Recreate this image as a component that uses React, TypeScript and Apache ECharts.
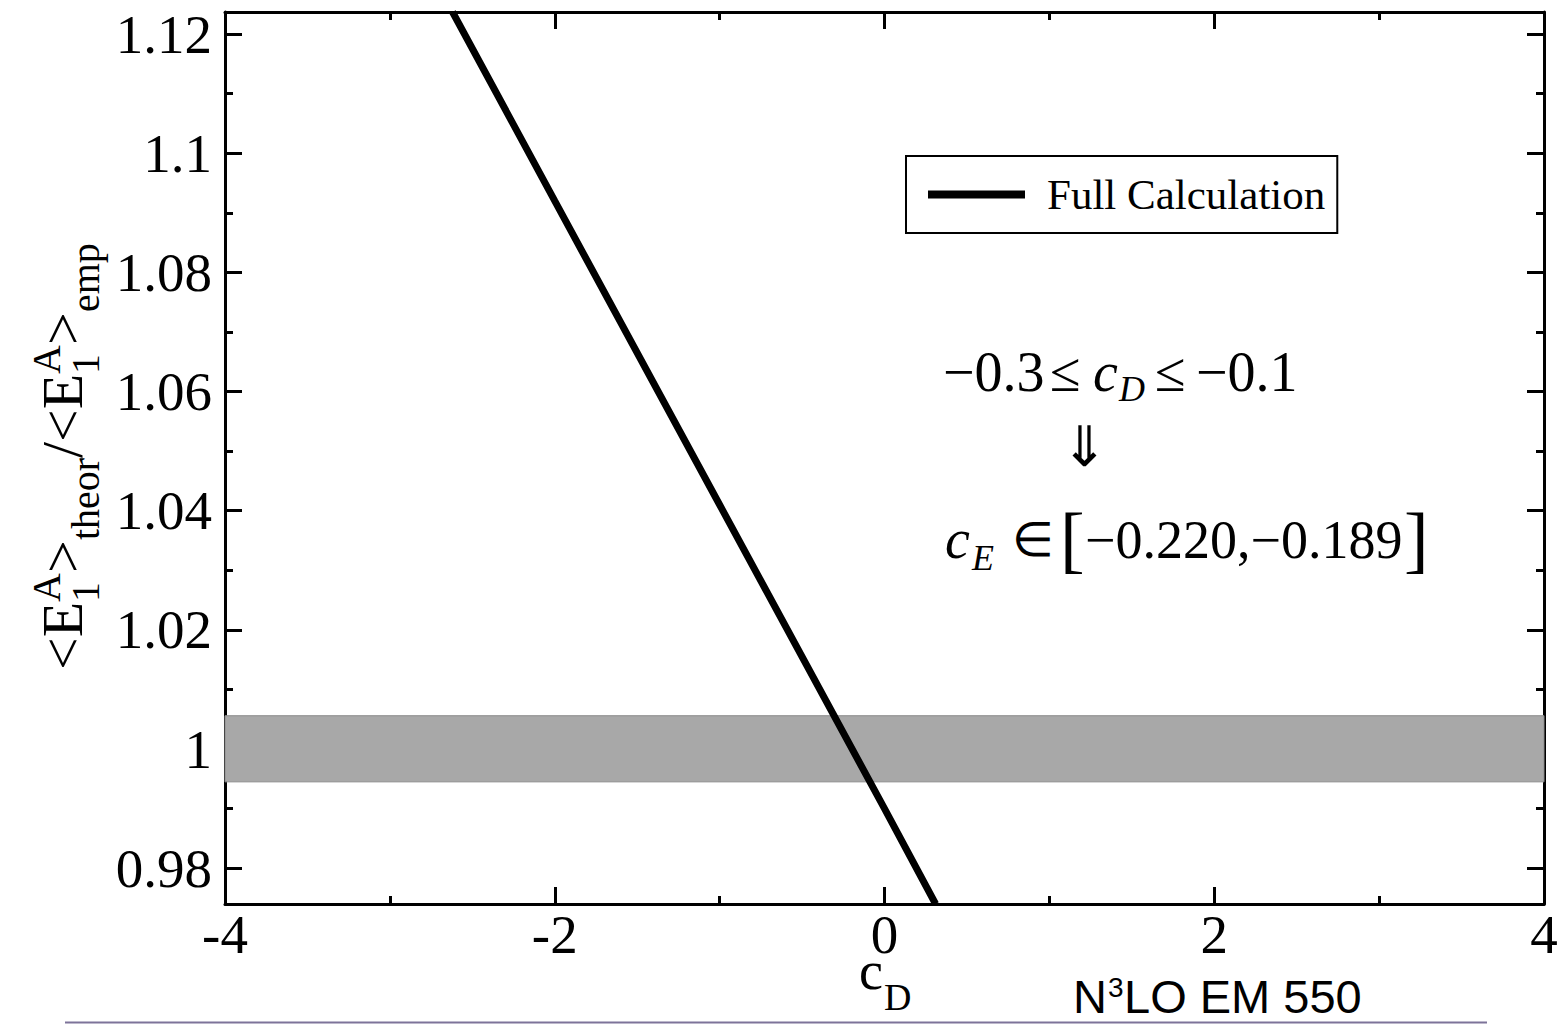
import React, { useEffect, useRef } from "react";
import * as echarts from "echarts";

// Data
const cD = [-2.62, -2, -1, 0, 0.31];
const ratio = [1.1237, 1.092, 1.041, 0.99, 0.974];
const bandLow = 0.9945;
const bandHigh = 1.0056;
const xMin = -4;
const xMax = 4;
const xStep = 2;
const yMin = 0.974;
const yMax = 1.1237;
const yStep = 0.02;
const seriesName = "Full Calculation";

const SERIF = '"Liberation Serif", "Times New Roman", Times, serif';
const SANS = '"Liberation Sans", Arial, Helvetica, sans-serif';

function txt(
  text: string,
  x: number,
  baseline: number,
  size: number,
  opts: { italic?: boolean; family?: string; align?: string } = {}
) {
  return {
    type: "text",
    x,
    y: baseline - 0.3375 * size,
    silent: true,
    style: {
      text,
      fill: "#000",
      fontSize: size,
      fontFamily: opts.family || SERIF,
      fontStyle: opts.italic ? "italic" : "normal",
      align: opts.align || "left",
      verticalAlign: "middle",
    },
  };
}

export default function App() {
  const ref = useRef<HTMLDivElement>(null);

  useEffect(() => {
    const chart = echarts.init(ref.current!, null, { renderer: "svg" });

    const F = 58;
    const s = 40;
    const supOff = -22;
    const subOff = 17;
    // rotated y-axis title: local x runs upward along the text, local y to the right
    const yTitle = {
      type: "group",
      x: 82,
      y: 670,
      rotation: Math.PI / 2,
      children: [
        txt("<E", 0, 0, F),
        txt("A", 68, supOff, s),
        txt("1", 68, subOff, s),
        txt(">", 97, 0, F),
        txt("theor", 130, subOff, s),
        txt("/", 212, 0, F),
        txt("<E", 228, 0, F),
        txt("A", 296, supOff, s),
        txt("1", 296, subOff, s),
        txt(">", 325, 0, F),
        txt("emp", 358, subOff, s),
      ],
    };

    const axisCommon = {
      type: "value",
      axisLine: { show: true, onZero: false, lineStyle: { color: "#000", width: 3 } },
      axisTick: { show: true, inside: true, length: 17, lineStyle: { color: "#000", width: 3 } },
      minorTick: { show: true, splitNumber: 2, length: 8, lineStyle: { color: "#000", width: 3 } },
      splitLine: { show: false },
      minorSplitLine: { show: false },
    };

    const option: any = {
      animation: false,
      backgroundColor: "#fff",
      grid: { left: 225, right: 20, top: 12, bottom: 120, containLabel: false },
      xAxis: [
        {
          ...axisCommon,
          position: "bottom",
          min: xMin,
          max: xMax,
          interval: xStep,
          axisLabel: { show: true, margin: 3, color: "#000", fontSize: 55, fontFamily: SERIF },
        },
        {
          ...axisCommon,
          position: "top",
          min: xMin,
          max: xMax,
          interval: xStep,
          axisLabel: { show: false },
        },
      ],
      yAxis: [
        {
          ...axisCommon,
          position: "left",
          min: yMin,
          max: yMax,
          minInterval: yStep,
          maxInterval: yStep,
          axisLabel: {
            show: true,
            margin: 13,
            color: "#000",
            fontSize: 55,
            fontFamily: SERIF,
            showMinLabel: false,
            showMaxLabel: false,
          },
        },
        {
          ...axisCommon,
          position: "right",
          min: yMin,
          max: yMax,
          minInterval: yStep,
          maxInterval: yStep,
          axisLabel: { show: false },
        },
      ],
      legend: {
        show: true,
        selectedMode: false,
        left: 906,
        top: 156,
        orient: "horizontal",
        data: [seriesName],
        itemWidth: 97,
        itemHeight: 8,
        padding: [17, 12, 17, 18],
        borderColor: "#000",
        borderWidth: 2,
        backgroundColor: "#fff",
        lineStyle: { width: 8, color: "#000" },
        itemStyle: { color: "#000" },
        textStyle: { color: "#000", fontSize: 43, fontFamily: SERIF, padding: [0, 0, 0, 17] },
      },
      series: [
        {
          name: seriesName,
          type: "line",
          xAxisIndex: 0,
          yAxisIndex: 0,
          data: cD.map((x, i) => [x, ratio[i]]),
          symbol: "none",
          showSymbol: false,
          clip: true,
          color: "#000",
          lineStyle: { color: "#000", width: 7 },
          markArea: {
            silent: true,
            itemStyle: { color: "#a8a8a8", borderColor: "#8c8c8c", borderWidth: 1 },
            data: [[{ yAxis: bandLow }, { yAxis: bandHigh }]],
          },
        },
      ],
      graphic: [
        yTitle,
        // x-axis title c_D
        txt("c", 859, 989, 54),
        txt("D", 884, 1010, 38),
        // annotation line 1
        txt("\u22120.3", 943, 391, 56),
        txt("\u2264", 1050, 391, 56),
        txt("c", 1093, 391, 56, { italic: true }),
        txt("D", 1119, 401, 36, { italic: true }),
        txt("\u2264", 1155, 391, 56),
        txt("\u22120.1", 1196, 391, 56),
        // arrow
        txt("\u21D3", 1084, 466, 56, { align: "center" }),
        // annotation line 3
        txt("c", 945, 558, 56, { italic: true }),
        txt("E", 972, 570, 36, { italic: true }),
        txt("\u2208", 1012, 556, 48),
        txt("[", 1060, 564, 74),
        txt("\u22120.220,\u22120.189", 1085, 558, 54),
        txt("]", 1404, 564, 74),
        // footer label
        txt("N", 1073, 1012, 47, { family: SANS }),
        txt("3", 1108, 997, 28, { family: SANS }),
        txt("LO EM 550", 1124, 1012, 47, { family: SANS }),
        {
          type: "line",
          silent: true,
          shape: { x1: 65, y1: 1022.5, x2: 1487, y2: 1022.5 },
          style: { stroke: "#7d7399", lineWidth: 2 },
        },
      ],
    };

    chart.setOption(option);
    return () => chart.dispose();
  }, []);

  return (
    <div
      ref={ref}
      style={{ position: "fixed", left: 0, top: 0, width: 1564, height: 1024, background: "#fff" }}
    />
  );
}
